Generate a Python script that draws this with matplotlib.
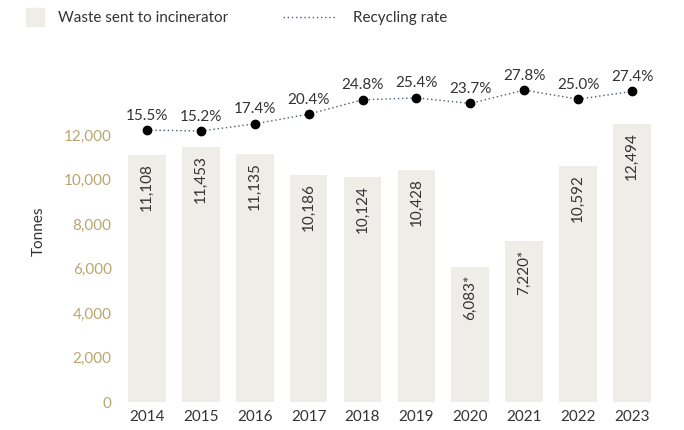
import numpy as np
import matplotlib.pyplot as plt
from matplotlib.lines import Line2D

plt.rcParams['font.family'] = ['Lato', 'DejaVu Sans']

years = ["2014", "2015", "2016", "2017", "2018", "2019", "2020", "2021", "2022", "2023"]
waste = [11108, 11453, 11135, 10186, 10124, 10428, 6083, 7220, 10592, 12494]
waste_labels = ["11,108", "11,453", "11,135", "10,186", "10,124", "10,428",
                "6,083*", "7,220*", "10,592", "12,494"]
recycling = [15.5, 15.2, 17.4, 20.4, 24.8, 25.4, 23.7, 27.8, 25.0, 27.4]

bar_color = "#efede8"
tick_gold = "#b9a66e"
text_dark = "#333333"
line_color = "#4a5a7a"

fig = plt.figure(figsize=(6.84, 4.30), dpi=100)
ax = fig.add_axes([0.1754, 0.065, 0.788, 0.795])

x = np.arange(len(years))
ax.bar(x, waste, width=0.7, color=bar_color)
for i in range(len(x)):
    ax.text(x[i], waste[i] - 350, waste_labels[i], rotation=90, ha="center", va="top",
            fontsize=11, color=text_dark)

ax.set_xlim(-0.5, len(years) - 0.5)
ax.set_ylim(0, 15370)
ax.set_yticks(range(0, 12001, 2000))
ax.set_yticklabels([f"{v:,}" for v in range(0, 12001, 2000)])
ax.set_xticks(x)
ax.set_xticklabels(years)
ax.tick_params(axis="y", length=0, colors=tick_gold, labelsize=11, pad=6)
ax.tick_params(axis="x", length=0, colors=text_dark, labelsize=11, pad=6)
for s in ax.spines.values():
    s.set_visible(False)
ax.set_ylabel("Tonnes", fontsize=11, color=text_dark, labelpad=13)

ax2 = ax.twinx()
ax2.plot(x, recycling, linestyle=(0, (1, 2)), color=line_color, linewidth=1,
         marker="o", markersize=6, markerfacecolor="black", markeredgecolor="black")
for i in range(len(x)):
    ax2.text(x[i], recycling[i] + 2.3, f"{recycling[i]:.1f}%", ha="center", va="bottom",
             fontsize=11, color=text_dark)
ax2.set_ylim(-68.2, 37.0)
ax2.set_yticks([])
for s in ax2.spines.values():
    s.set_visible(False)

# legend, two pieces so the square and the dotted line can differ in size
sq = Line2D([0], [0], linestyle="none", marker="s", markersize=12.5,
            markerfacecolor=bar_color, markeredgecolor=bar_color)
fig.legend([sq], ["Waste sent to incinerator"], loc="upper left",
           bbox_to_anchor=(0.0163, 1.01), frameon=False, fontsize=11,
           handlelength=1.15, handletextpad=0.9, labelcolor=text_dark, borderpad=0.5)
dl = Line2D([0], [0], linestyle=(0, (1, 2)), color=line_color, linewidth=1)
fig.legend([dl], ["Recycling rate"], loc="upper left",
           bbox_to_anchor=(0.391, 1.01), frameon=False, fontsize=11,
           handlelength=3.5, handletextpad=1.1, labelcolor=text_dark, borderpad=0.5)

fig.savefig("out.png", dpi=100)
